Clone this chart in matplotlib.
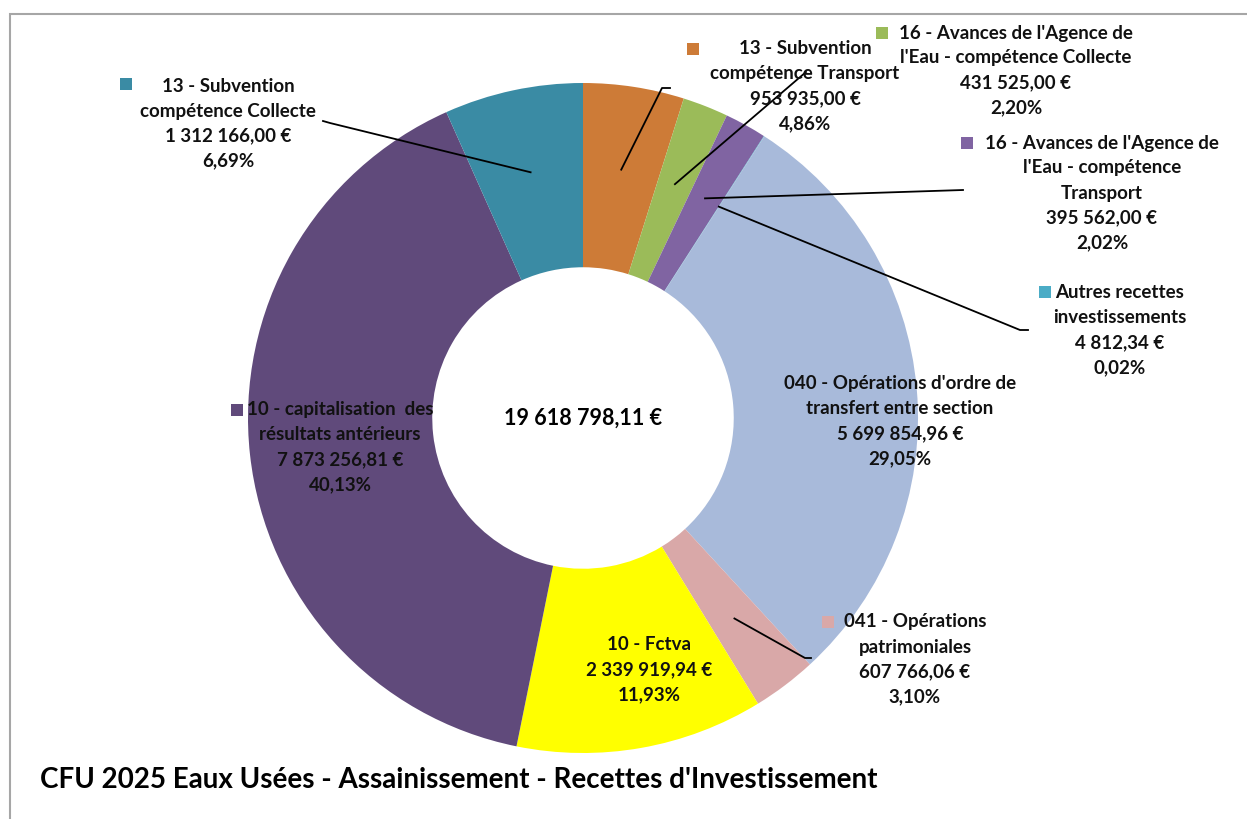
import numpy as np
import matplotlib
matplotlib.use('Agg')
import matplotlib.pyplot as plt
from matplotlib.patches import Rectangle
from matplotlib.lines import Line2D

W, H = 1247, 819

categories = [
    "13 - Subvention\ncompétence Transport",
    "16 - Avances de l'Agence de\nl'Eau - compétence Collecte",
    "16 - Avances de l'Agence de\nl'Eau - compétence\nTransport",
    "Autres recettes\ninvestissements",
    "040 - Opérations d'ordre de\ntransfert entre section",
    "041 - Opérations\npatrimoniales",
    "10 - Fctva",
    "10 - capitalisation  des\nrésultats antérieurs",
    "13 - Subvention\ncompétence Collecte",
]
montants = ["953 935,00 €", "431 525,00 €", "395 562,00 €", "4 812,34 €",
            "5 699 854,96 €", "607 766,06 €", "2 339 919,94 €",
            "7 873 256,81 €", "1 312 166,00 €"]
valeurs = [953935.00, 431525.00, 395562.00, 4812.34, 5699854.96,
           607766.06, 2339919.94, 7873256.81, 1312166.00]
pourcentages = ["4,86%", "2,20%", "2,02%", "0,02%", "29,05%",
                "3,10%", "11,93%", "40,13%", "6,69%"]
total = "19 618 798,11 €"
titre = "CFU 2025 Eaux Usées - Assainissement - Recettes d'Investissement"

couleurs = ['#CD7B37', '#9BBB59', '#8064A2', '#4BACC6', '#A8BADA',
            '#D9A8A8', '#FFFF00', '#604A7B', '#3A8BA4']

# position du texte (centre x, y de la 1ere ligne) et du carre, en pixels
pos_texte = [(805, 49), (1016, 33), (1102, 143), (1120, 293), (900, 384),
             (915, 622), (649, 645), (340, 410), (228, 86)]
pos_carre = [(693, 49), (882, 33), (967, 143), (1045, 292), (783, 384),
             (828, 622), (592, 645), (237, 410), (126, 84)]
# extremite des traits de rappel (None = pas de trait)
rappel = [[(662, 88), (670, 88)], [(806, 72)], [(963, 190)],
          [(1020, 330), (1028, 330)], None, [(805, 658), (811, 658)],
          None, None, [(330, 123), (323, 121)]]


def fx(x):
    return x / W


def fy(y):
    return 1 - y / H


fig = plt.figure(figsize=(W / 100, H / 100), dpi=100)
fig.patch.set_facecolor('white')

# cadre
fig.add_artist(Rectangle((fx(10), fy(830)), fx(1260), fy(14) - fy(830),
                         transform=fig.transFigure, fill=False,
                         edgecolor='#A6A6A6', linewidth=1.5))

cx, cy, R = 583, 418, 335
ax = fig.add_axes([fx(cx - R), fy(cy + R), 2 * R / W, 2 * R / H])
wedges, _ = ax.pie(valeurs, colors=couleurs, startangle=90, counterclock=False,
                   radius=1, wedgeprops=dict(width=0.55, linewidth=0))
ax.set_xlim(-1, 1)
ax.set_ylim(-1, 1)
ax.set_aspect('equal')
ax.axis('off')

police = ['Lato', 'DejaVu Sans']

for i, w in enumerate(wedges):
    # ancrage au milieu de l'anneau
    ang = np.deg2rad((w.theta1 + w.theta2) / 2)
    px = cx + 0.75 * R * np.cos(ang)
    py = cy - 0.75 * R * np.sin(ang)
    if rappel[i] is not None:
        pts = [(px, py)] + rappel[i]
        fig.add_artist(Line2D([fx(p[0]) for p in pts], [fy(p[1]) for p in pts],
                              transform=fig.transFigure, color='black',
                              linewidth=1.3))
    lignes = categories[i].split('\n') + [montants[i], pourcentages[i]]
    tx, ty = pos_texte[i]
    for k, l in enumerate(lignes):
        fig.text(fx(tx), fy(ty + 25 * k), l, ha='center', va='center',
                 fontsize=13.5, fontweight='bold', family=police, color='#111111')
    mx, my = pos_carre[i]
    fig.add_artist(Rectangle((fx(mx - 6), fy(my + 6)), 12 / W, 12 / H,
                             transform=fig.transFigure, facecolor=couleurs[i],
                             edgecolor='none'))

fig.text(fx(cx), fy(cy), total, ha='center', va='center', fontsize=15.5,
         fontweight='bold', family=police, color='black')

fig.text(fx(40), fy(780), titre, ha='left', va='center', fontsize=20,
         fontweight='bold', family=police, color='black')

fig.savefig('out.png', dpi=100)
